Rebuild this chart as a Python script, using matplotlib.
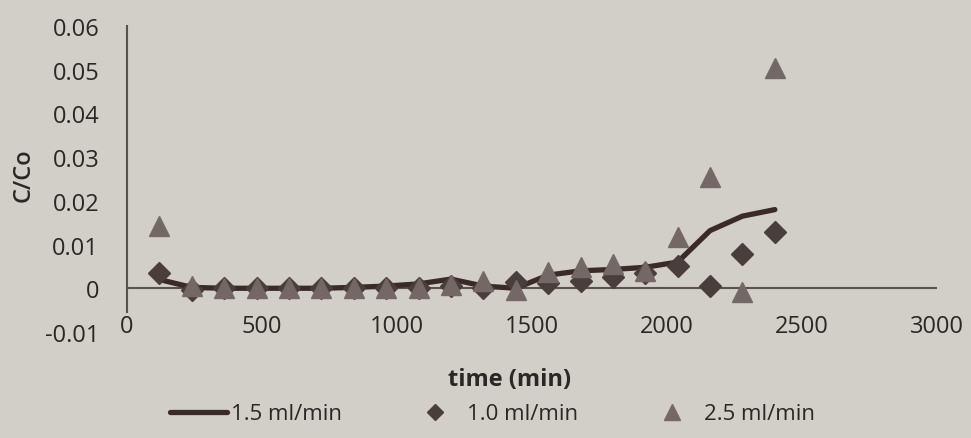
import matplotlib
matplotlib.use("Agg")
import matplotlib.pyplot as plt
from matplotlib.ticker import FuncFormatter

plt.rcParams['font.family'] = ['Open Sans', 'DejaVu Sans']

# sampling times (min)
t = [120, 240, 360, 480, 600, 720, 840, 960, 1080, 1200,
     1320, 1440, 1560, 1680, 1800, 1920, 2040, 2160, 2280, 2400]

# C/Co for each flow rate
c_15 = [0.0020, 0.0002, 0.0, 0.0, 0.0, 0.0, 0.0002, 0.0005, 0.0010, 0.0021,
        0.0005, 0.0, 0.0030, 0.0040, 0.0043, 0.0048, 0.0060, 0.0132, 0.0165, 0.0180]
c_10 = [0.0034, -0.0003, 0.0, 0.0, 0.0, 0.0, 0.0, 0.0, 0.0, 0.0005,
        0.0, 0.0015, 0.0013, 0.0017, 0.0025, 0.0035, 0.0050, 0.0005, 0.0078, 0.0128]
c_25 = [0.0143, 0.0005, 0.0, 0.0, 0.0, 0.0, 0.0, 0.0, 0.0, 0.0007,
        0.0017, -0.0003, 0.0037, 0.0048, 0.0055, 0.0040, 0.0118, 0.0255, -0.0008, 0.0505]

labels = ['1.5 ml/min', '1.0 ml/min', '2.5 ml/min']
xticks = [0, 500, 1000, 1500, 2000, 2500, 3000]
yticks = [-0.01, 0, 0.01, 0.02, 0.03, 0.04, 0.05, 0.06]

bg = '#d2cec8'
txt = '#2a2826'

fig = plt.figure(figsize=(9.71, 4.39), dpi=100, facecolor=bg)
ax = fig.add_axes([0.1308, 0.2415, 0.834, 0.697], facecolor=bg)

l1, = ax.plot(t, c_15, color='#3a2b28', lw=3.8, solid_capstyle='round', zorder=2, label=labels[0])
l2, = ax.plot(t, c_10, ls='none', marker='D', ms=11, color='#4a3e3c', zorder=3, label=labels[1])
l3, = ax.plot(t, c_25, ls='none', marker='^', ms=15, color='#736866', zorder=4, label=labels[2])

ax.axhline(0, color='#5a5250', lw=1.5, zorder=1)

ax.set_xlim(0, 3000)
ax.set_ylim(-0.01, 0.06)
ax.set_xticks(xticks)
ax.set_yticks(yticks)
ax.yaxis.set_major_formatter(FuncFormatter(lambda v, p: '0' if abs(v) < 1e-9 else '%.2f' % v))

for s in ['top', 'right', 'bottom']:
    ax.spines[s].set_visible(False)
ax.spines['left'].set_color('#5a5250')
ax.spines['left'].set_linewidth(1.5)
ax.spines['left'].set_bounds(-0.0055, 0.06)

ax.tick_params(axis='both', length=0, labelsize=17, labelcolor=txt)
ax.tick_params(axis='y', pad=20)
ax.tick_params(axis='x', pad=-13)

fig.text(0.525, 1 - 380 / 439, 'time (min)', ha='center', va='center',
         fontsize=17, fontweight='bold', color=txt)
fig.text(0.024, 1 - 175 / 439, 'C/Co', ha='center', va='center', rotation=90,
         fontsize=17, fontweight='semibold', color=txt)

fig.legend(handles=[l1, l2, l3], loc='center', bbox_to_anchor=(0.507, 1 - 415 / 439),
           ncol=3, frameon=False, fontsize=16, handlelength=2.6, columnspacing=2.9,
           handletextpad=0.15, labelcolor=txt, markerscale=0.75)

fig.savefig('out.png', dpi=100, facecolor=bg)
